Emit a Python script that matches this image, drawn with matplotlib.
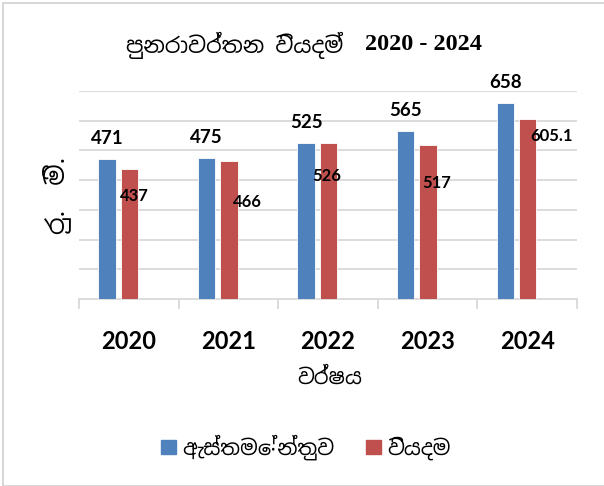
import numpy as np
import matplotlib.pyplot as plt
from matplotlib.patches import Rectangle, Patch

# data
years = ['2020', '2021', '2022', '2023', '2024']
estimate = [471, 475, 525, 565, 658]
expense = [437, 466, 526, 517, 605.1]
expense_labels = ['437', '466', '526', '517', '605.1']

title_si = 'පුනරාවර්තන වියදම්'
title_years = '2020 - 2024'
ylabel = 'රු.  මි.'
xlabel = 'වර්ෂය'
legend_names = ['ඇස්තමේන්තුව', 'වියදම']

blue = '#4f81bd'
red = '#c0504d'
grid_c = '#d9d9d9'

si_fonts = ['Noto Sans Sinhala', 'Lato', 'DejaVu Sans']

fig = plt.figure(figsize=(6.04, 4.86), dpi=100)
fig.patches.append(Rectangle((3 / 604, 0), 1.1, 1 - 3 / 486, transform=fig.transFigure,
                             fill=False, edgecolor='#d0d0d0', lw=1.2))

ax = fig.add_axes([79 / 604, 187 / 486, 498 / 604, 208 / 486])
x = np.arange(len(years))
w = 0.176
b1 = ax.bar(x - 0.22, estimate, w, color=blue, edgecolor='white', lw=0.6, zorder=3)
b2 = ax.bar(x + 0.005, expense, w, color=red, edgecolor='white', lw=0.6, zorder=3)

ax.set_ylim(0, 700)
ax.set_xlim(-0.5, 4.5)
ax.set_yticks(np.arange(100, 701, 100))
ax.yaxis.grid(True, color=grid_c, lw=1.3)
ax.tick_params(axis='y', length=0, labelleft=False)
for s in ['top', 'right', 'left']:
    ax.spines[s].set_visible(False)
ax.spines['bottom'].set_color(grid_c)
ax.spines['bottom'].set_linewidth(1.3)

ax.set_xticks(x)
ax.set_xticklabels(years, fontfamily='Lato', fontweight='bold', fontsize=17)
ax.set_xticks(np.arange(-0.5, 5, 1), minor=True)
ax.tick_params(axis='x', which='major', length=0, pad=22)
ax.tick_params(axis='x', which='minor', length=7, width=1.3, color=grid_c)

# value labels
for xi, v in zip(x, estimate):
    ax.annotate(str(v), (xi - 0.22, v), xytext=(0, 15), textcoords='offset points',
                ha='center', va='center', fontfamily='Lato', fontweight='bold', fontsize=13.5)
red_off = [(4, -19), (13, -30), (-1, -24), (6, -27), (17, -12)]
for xi, v, t, (dx, dy) in zip(x, expense, expense_labels, red_off):
    ax.annotate(t, (xi + 0.005, v), xytext=(dx, dy), textcoords='offset points',
                ha='center', va='center', fontfamily='Lato', fontweight='bold', fontsize=12)

fig.text(343 / 604, 1 - 45 / 486, title_si, ha='right', va='center', fontsize=16, family=si_fonts)
fig.text(365 / 604, 1 - 45 / 486, title_years, ha='left', va='center', fontsize=17.5,
         family='Liberation Serif', fontweight='bold')
fig.text(57 / 604, 1 - 195 / 486, ylabel, rotation=90, ha='center', va='center',
         fontsize=18, family=si_fonts)
fig.text(330 / 604, 1 - 378 / 486, xlabel, ha='center', va='center', fontsize=15, family=si_fonts)

handles = [Patch(color=blue), Patch(color=red)]
leg = fig.legend(handles, legend_names, loc='center', bbox_to_anchor=(306 / 604, 1 - 447 / 486),
                 ncol=2, frameon=False, prop={'family': si_fonts, 'size': 15},
                 handlelength=0.72, handleheight=0.65, columnspacing=1.5, handletextpad=0.3)

fig.savefig('out.png', dpi=100)
